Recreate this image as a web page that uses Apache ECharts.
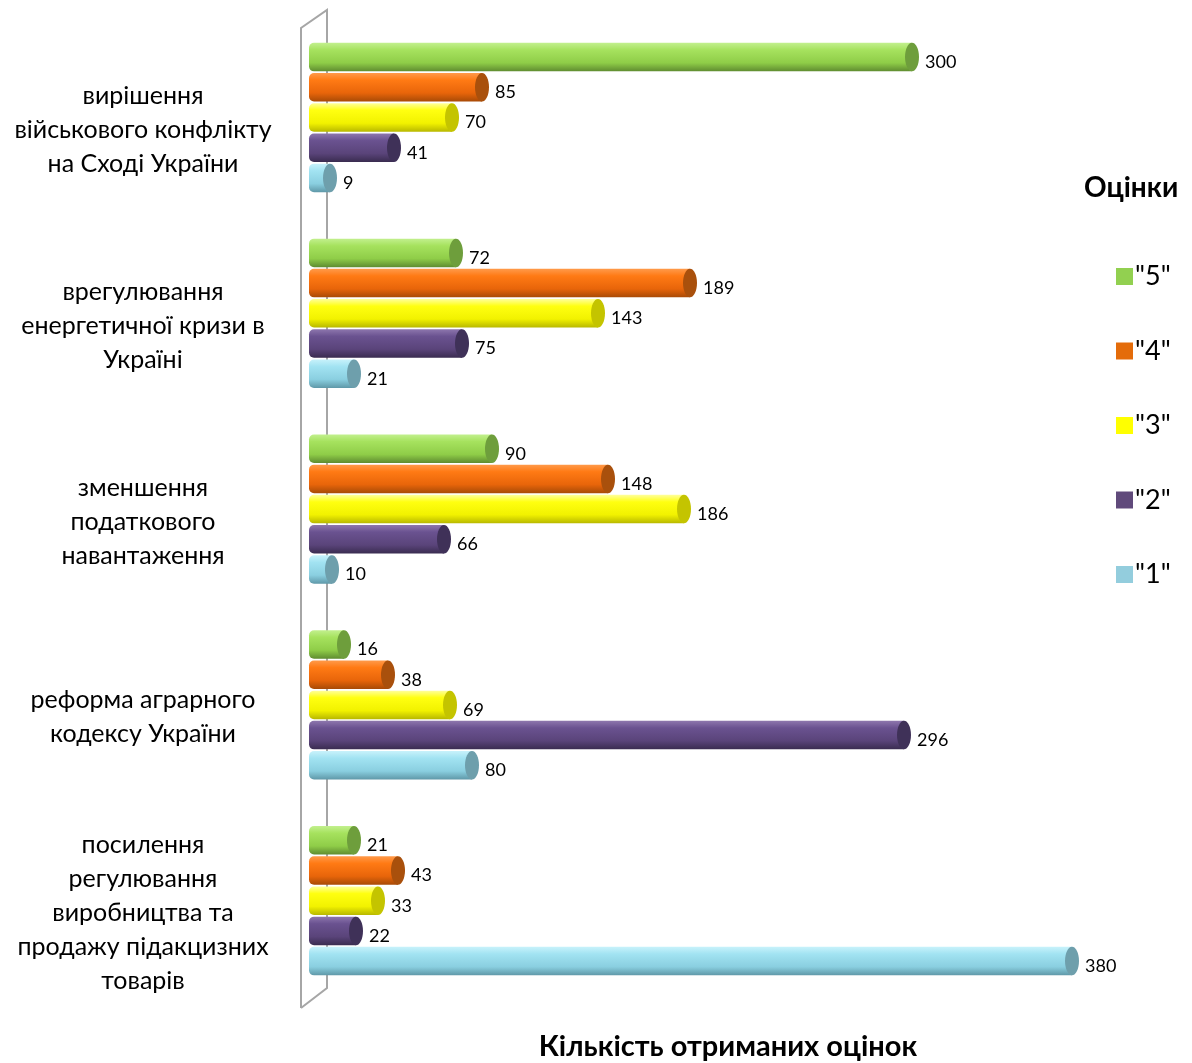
<!DOCTYPE html>
<html>
<head>
<meta charset="utf-8">
<script src="https://cdn.jsdelivr.net/npm/echarts@6/dist/echarts.min.js"></script>
<style>html,body{margin:0;padding:0;background:#fff}#c{width:1192px;height:1063px}</style>
</head>
<body>
<div id="c"></div>
<script>
const categories = [
  "вирішення\nвійськового конфлікту\nна Сході України",
  "врегулювання\nенергетичної кризи в\nУкраїні",
  "зменшення\nподаткового\nнавантаження",
  "реформа аграрного\nкодексу України",
  "посилення\nрегулювання\nвиробництва та\nпродажу підакцизних\nтоварів"
];
const seriesNames = ['"5"', '"4"', '"3"', '"2"', '"1"'];
const grade5 = [300, 72, 90, 16, 21];
const grade4 = [85, 189, 148, 38, 43];
const grade3 = [70, 143, 186, 69, 33];
const grade2 = [41, 75, 66, 296, 22];
const grade1 = [9, 21, 10, 80, 380];
const allValues = [grade5, grade4, grade3, grade2, grade1];

const legendColors = ['#92d050', '#e46c0a', '#ffff00', '#604a7b', '#93cddd'];
const bodyStops = [
  ['#c2f08e', '#a6e25e', '#8fcd48', '#5f8c30'],
  ['#ff9a4a', '#ff7a14', '#e8650a', '#a84a06'],
  ['#ffff9a', '#ffff10', '#f2f200', '#b8b800'],
  ['#8d76ad', '#6a5290', '#5a447a', '#3a2c50'],
  ['#c8f2fb', '#a2e3f2', '#8acfe0', '#5f98a8']
];
const capColors = ['#6e9e3c', '#a9500c', '#c4c400', '#3f3158', '#6e9fac'];

const FONT = 'Lato, "Open Sans", sans-serif';
const chart = echarts.init(document.getElementById('c'));

function makeRender(si) {
  return function (params, api) {
    const v = api.value(0), c = api.value(1);
    const p0 = api.coord([0, c]);
    const p1 = api.coord([v, c]);
    const pitch = 30.2;
    const yc = p0[1] + (si - 2) * pitch;
    const h = 28.5;
    const s = bodyStops[si];
    return {
      type: 'group',
      children: [
        {
          type: 'rect',
          shape: { x: p0[0] - 3, y: yc - h / 2, width: p1[0] - p0[0] + 3, height: h, r: [5, 0, 0, 5] },
          style: {
            fill: new echarts.graphic.LinearGradient(0, 0, 0, 1, [
              { offset: 0, color: s[0] },
              { offset: 0.25, color: s[1] },
              { offset: 0.7, color: s[2] },
              { offset: 1, color: s[3] }
            ])
          }
        },
        {
          type: 'ellipse',
          shape: { cx: p1[0], cy: yc, rx: 7, ry: h / 2 },
          style: { fill: capColors[si] }
        },
        {
          type: 'text',
          x: p1[0] + 13,
          y: yc + 5,
          style: {
            text: String(v),
            fill: '#000',
            font: '18px ' + FONT,
            verticalAlign: 'middle',
            align: 'left'
          }
        }
      ]
    };
  };
}

const series = seriesNames.map((name, si) => ({
  type: 'custom',
  name: name,
  itemStyle: { color: legendColors[si] },
  encode: { x: 0, y: 1 },
  data: allValues[si].map((v, ci) => [v, ci]),
  renderItem: makeRender(si)
}));

chart.setOption({
  animation: false,
  backgroundColor: '#fff',
  grid: { left: 312, top: 19.6, width: 800, height: 979, containLabel: false, outerBoundsMode: 'none' },
  xAxis: {
    type: 'value', min: 0, max: 400,
    axisLine: { show: false }, axisTick: { show: false },
    axisLabel: { show: false }, splitLine: { show: false },
    name: 'Кількість отриманих оцінок',
    nameLocation: 'middle',
    nameGap: 34,
    nameTextStyle: { fontFamily: FONT, fontSize: 29, fontWeight: 'bold', color: '#000', padding: [0, 0, 0, 32] }
  },
  yAxis: {
    type: 'category', data: categories, inverse: true,
    axisLine: { show: false }, axisTick: { show: false }, splitLine: { show: false },
    axisLabel: {
      margin: 169, align: 'center', color: '#000',
      formatter: (v) => '{s|}\n{t|' + v + '}',
      rich: {
        s: { fontSize: 10, lineHeight: 25, fontFamily: FONT },
        t: { fontFamily: FONT, fontSize: 25, lineHeight: 34, color: '#000', align: 'center' }
      }
    }
  },
  legend: {
    orient: 'vertical', left: 1111, top: 258,
    itemWidth: 17, itemHeight: 17, itemGap: 47.5,
    icon: 'rect',
    textStyle: { fontFamily: FONT, fontSize: 27, color: '#000', lineHeight: 26, padding: [0, 0, 0, -3] },
    data: seriesNames
  },
  graphic: [
    { type: 'text', left: 1084, top: 174, style: { text: 'Оцінки', font: 'bold 28px ' + FONT, fill: '#000' } },
    { type: 'polyline', z: -1, silent: true,
      shape: { points: [[301, 1008], [301, 28], [327, 10], [327, 988], [301, 1008]] },
      style: { stroke: '#a6a6a6', lineWidth: 2, fill: null } }
  ],
  series: series
});
</script>
</body>
</html>
